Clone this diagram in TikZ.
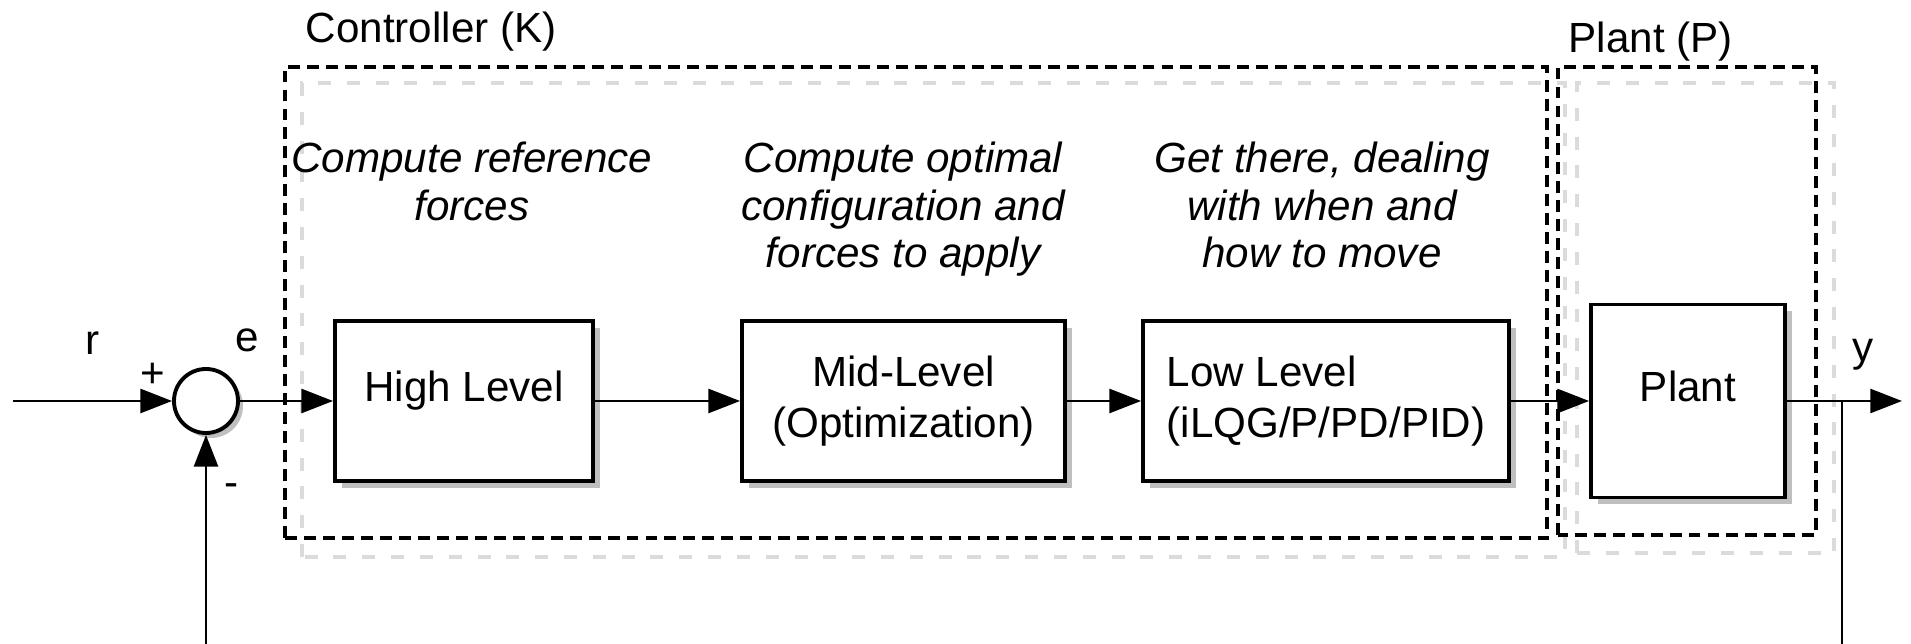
\documentclass[tikz,border=0pt]{standalone}
\usepackage{fontspec}
\setmainfont{Liberation Sans}
\usepackage{tikz}
\usetikzlibrary {arrows.meta, shadows}

\tikzset{
    frame/.style={draw=black, line width=1pt, dash pattern=on 3.4pt off 2pt},
    ghost/.style={draw=black!14, line width=1pt, dash pattern=on 3.7pt off 4.5pt},
    block/.style={draw, line width=1.1pt, fill=white, minimum height=1.6cm, inner sep=0pt,
        font=\fontsize{12}{14.5}\selectfont,
        drop shadow={shadow xshift=0.7mm, shadow yshift=-0.7mm, opacity=0.25, fill=black}},
    sumnode/.style={circle, draw, line width=1.1pt, fill=white, minimum size=0.64cm, inner sep=0pt,
        drop shadow={shadow xshift=0.5mm, shadow yshift=-0.5mm, opacity=0.25, fill=black}},
    note/.style={anchor=north, inner sep=0pt, align=center,
        font=\fontsize{12}{13.6}\selectfont\itshape},
    caption/.style={anchor=base west, inner sep=0pt, font=\fontsize{12}{14}\selectfont},
    sign/.style={anchor=base, inner sep=0pt, font=\fontsize{12}{14}\selectfont},
    sig/.style={line width=0.8pt, -{Triangle[length=9pt,width=6.8pt]}}
}

\begin{document}
\begin{tikzpicture}
    \useasboundingbox (0,0) rectangle (19.11,6.44);

    \draw[ghost] (3.02,0.87) rectangle ++(12.63,4.74);
    \draw[ghost] (15.77,0.91) rectangle ++(2.57,4.70);
    \draw[frame] (2.85,1.06) rectangle ++(12.62,4.71);
    \draw[frame] (15.58,1.09) rectangle ++(2.58,4.68);

    \node[caption] (ctrl) at (3.05,6.01) {Controller (K)};
    \node[caption] (plt) at (15.68,5.91) {Plant (P)};

    \node[note] (hlnote) at (4.72,5.03) {Compute reference\\forces};
    \node[note] (midnote) at (9.03,5.03) {Compute optimal\\configuration and\\forces to apply};
    \node[note] (lownote) at (13.22,5.03) {Get there, dealing\\with when and\\how to move};

    \node[sumnode] (sum) at (2.06,2.43) {};
    \node[block, minimum width=2.58cm, text depth=3mm] (hl) at (4.64,2.43) {High Level};
    \node[block, minimum width=3.23cm, align=center] (mid) at (9.035,2.43) {Mid-Level\\(Optimization)};
    \node[block, minimum width=3.66cm, align=left] (low) at (13.26,2.43) {Low Level\\(iLQG/P/PD/PID)};
    \node[block, minimum width=1.94cm, minimum height=1.93cm, text depth=3mm] (plant) at (16.88,2.43) {Plant};

    \coordinate (in) at (0.13,2.43);
    \coordinate (out) at (19.02,2.43);
    \coordinate (tap) at (18.42,2.43);
    \coordinate (bot) at (18.42,-0.01);

    \draw[sig] (in) -- (sum);
    \draw[sig] (sum) -- (hl);
    \draw[sig] (hl) -- (mid);
    \draw[sig] (mid) -- (low);
    \draw[sig] (low) -- (plant);
    \draw[sig] (plant) -- (out);
    \draw[sig] (tap) -- (bot) -| (sum);

    \node[sign] (rlab) at (0.93,2.89) {r};
    \node[sign] (elab) at (2.47,2.92) {e};
    \node[sign] (ylab) at (18.63,2.82) {y};
    \node[sign, anchor=center] (plus) at (1.53,2.69) {+};
    \node[sign, anchor=center] (minus) at (2.32,1.54) {-};
\end{tikzpicture}
\end{document}
